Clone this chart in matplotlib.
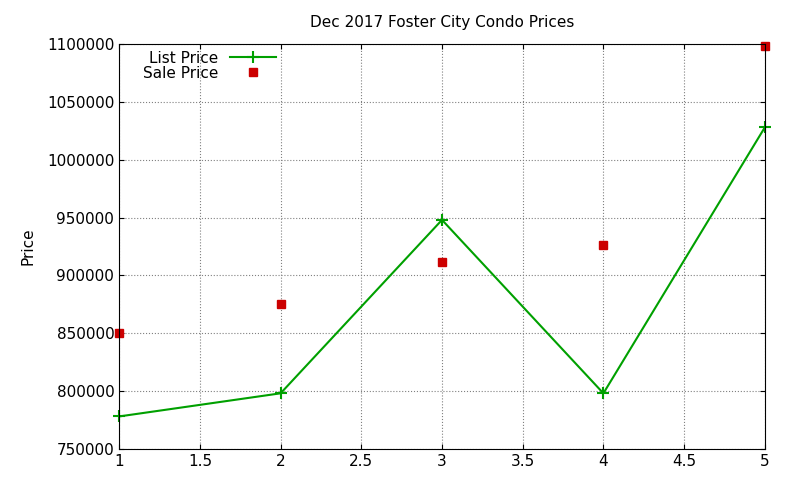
import matplotlib
matplotlib.use("Agg")
import matplotlib.pyplot as plt

x = [1, 2, 3, 4, 5]
list_price = [778000, 798000, 948000, 798000, 1028000]
sale_price = [850000, 875000, 912000, 926000, 1098000]
yticks = list(range(750000, 1100001, 50000))

fig = plt.figure(figsize=(8, 4.8), dpi=100)
ax = fig.add_axes([0.149, 0.065, 0.807, 0.843])
ax.plot(x, list_price, color="#00a000", marker="+", markersize=8, mew=1.5, lw=1.5, label="List Price", clip_on=False)
ax.plot(x, sale_price, color="#cc0000", marker="s", markersize=6, ls="none", label="Sale Price", clip_on=False)
ax.set_xlim(1, 5)
ax.set_ylim(750000, 1100000)
ax.set_xticks([1, 1.5, 2, 2.5, 3, 3.5, 4, 4.5, 5])
ax.set_xticklabels(["1", "1.5", "2", "2.5", "3", "3.5", "4", "4.5", "5"])
ax.set_yticks(yticks)
ax.set_yticklabels([str(v) for v in yticks])
ax.grid(True, color="gray", ls=":", lw=0.8)
ax.tick_params(direction="in", labelsize=11, top=True, right=True)
ax.set_ylabel("Price", fontsize=11)
ax.yaxis.set_label_coords(-0.13, 0.5)
ax.set_title("Dec 2017 Foster City Condo Prices", fontsize=11, pad=12)
leg = ax.legend(loc="upper left", bbox_to_anchor=(0.02, 1.01), frameon=False, fontsize=11,
                markerfirst=False, handlelength=3, borderpad=0.2, labelspacing=0.0)
fig.savefig("out.png", dpi=100)
